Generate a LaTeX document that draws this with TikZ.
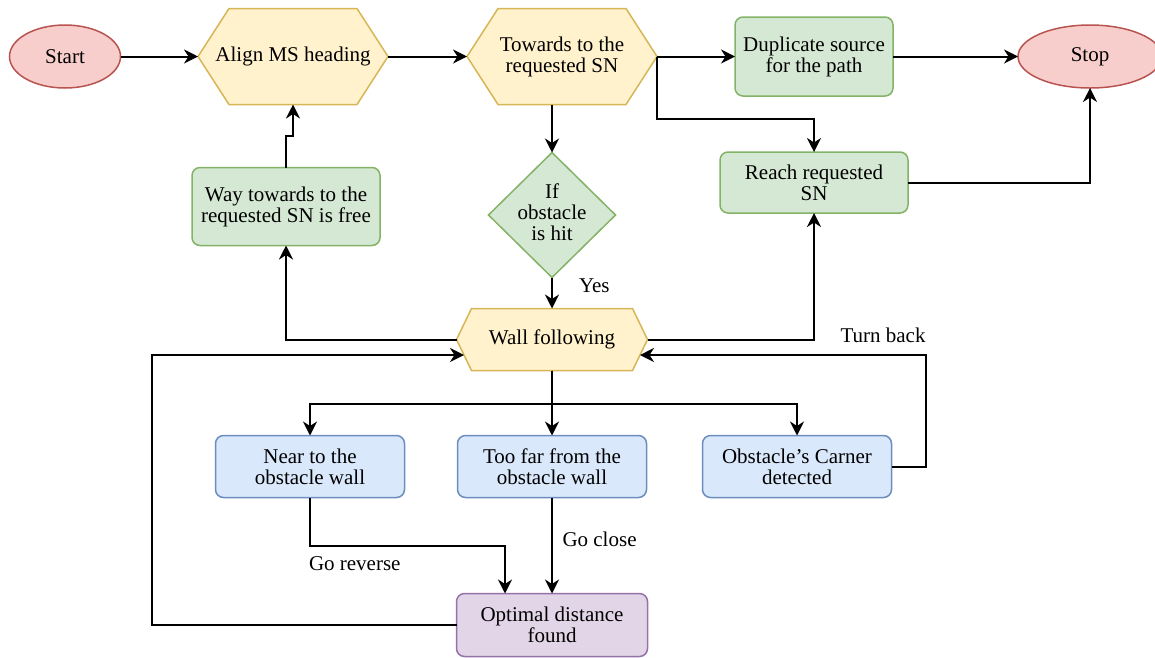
\documentclass[tikz,border=0pt]{standalone}
\usepackage{fontspec}
\setmainfont{Liberation Serif}
\usepackage{xcolor}
\usepackage{tikz}
\usetikzlibrary{shapes.geometric, arrows.meta, positioning, calc, backgrounds}
\definecolor{termfill}{RGB}{248,206,204}
\definecolor{termline}{RGB}{184,84,80}
\definecolor{hexfill}{RGB}{255,242,204}
\definecolor{hexline}{RGB}{214,182,86}
\definecolor{okfill}{RGB}{213,232,212}
\definecolor{okline}{RGB}{130,179,102}
\definecolor{wallfill}{RGB}{218,232,252}
\definecolor{wallline}{RGB}{108,142,191}
\definecolor{donefill}{RGB}{225,213,231}
\definecolor{doneline}{RGB}{150,115,166}
% hexagon drawn round a (borderless) node
\newcommand{\hexoutline}[2]{%
  \filldraw[draw=hexline, fill=hexfill, line width=1.5pt]
    (#1.west) -- ([xshift=#2]#1.north west) -- ([xshift=-#2]#1.north east)
    -- (#1.east) -- ([xshift=-#2]#1.south east) -- ([xshift=#2]#1.south west) -- cycle;}

\begin{document}
\begin{tikzpicture}[
  x=1pt, y=-1pt,
  base/.style={font=\fontsize{21}{21}\selectfont, align=center, inner sep=2pt, outer sep=0pt},
  terminal/.style={base, ellipse, draw=termline, fill=termfill, line width=1.5pt,
                   minimum height=63pt},
  hexbox/.style={base, rectangle, minimum width=190pt, minimum height=96pt},
  rbox/.style={base, rectangle, rounded corners=8pt, line width=1.5pt,
               minimum width=189pt, minimum height=62pt},
  okbox/.style={rbox, draw=okline, fill=okfill},
  wallbox/.style={rbox, draw=wallline, fill=wallfill},
  donebox/.style={rbox, draw=doneline, fill=donefill},
  decision/.style={diamond, draw=okline, fill=okfill, line width=1.5pt,
                   minimum width=127pt, minimum height=125pt, inner sep=0pt, outer sep=0pt,
                   font=\fontsize{21}{21}\selectfont},
  lbl/.style={font=\fontsize{21}{21}\selectfont, inner sep=0pt},
  arrow/.style={-{Stealth[length=14pt, width=14pt, inset=4.5pt]}, line width=2pt}
]
\useasboundingbox (0,0) rectangle (1155,657);

\node[terminal, minimum width=111pt] (start) at (65,56.5) {Start};
\node[hexbox, right=77.5pt of start] (align) {Align MS heading};
\node[hexbox, right=79pt of align] (towards) {Towards to the\\requested SN};
\node[okbox, minimum width=158pt, minimum height=79pt, right=78pt of towards] (dup) {Duplicate source\\for the path};
\node[terminal, minimum width=144pt, right=125pt of dup] (stop) {Stop};
\node[okbox, minimum width=188pt, minimum height=61pt, below=56pt of dup] (reach) {Reach requested\\SN};
\node[decision, below=48pt of towards, xshift=-10pt] (hit)
  {\makebox[0pt]{\raisebox{5pt}{\begin{tabular}{@{}c@{}}If\\obstacle\\is hit\end{tabular}}}};
\node[okbox, minimum width=188pt, minimum height=78pt, below=63pt of align, xshift=-7pt] (way) {Way towards to the\\requested SN is free};
\node[hexbox, minimum width=191pt, minimum height=62pt, below=31pt of hit] (wall) {Wall following};
\node[wallbox, below=65pt of wall] (toofar) {Too far from the\\obstacle wall};
\node[wallbox, left=53pt of toofar] (near) {Near to the\\obstacle wall};
\node[wallbox, right=56pt of toofar] (corner) {Obstacle’s Carner\\detected};
\node[donebox, minimum width=191pt, minimum height=63pt, below=96pt of toofar] (optimal) {Optimal distance\\found};

\begin{pgfonlayer}{background}
  \hexoutline{align}{31pt}
  \hexoutline{towards}{31pt}
  \hexoutline{wall}{15pt}
\end{pgfonlayer}
\coordinate (wallbl) at ($(wall.west)!0.5!([xshift=15pt]wall.south west)$);
\coordinate (wallbr) at ($(wall.east)!0.5!([xshift=-15pt]wall.south east)$);

\draw[arrow] (start.east) -- (align.west);
\draw[arrow] (align.east) -- (towards.west);
\draw[arrow] (towards.east) -- (dup.west);
\draw[arrow] (dup.east) -- (stop.west);
\draw[arrow] (towards.east) -- ++(0,62.5) -| (reach.north);
\draw[arrow] (towards.south -| hit.north) -- (hit.north);
\draw[arrow] (hit.south) -- node[lbl, pos=0.25, right=26pt] {Yes} (wall.north);
\draw[arrow] (wall.west) -| (way.south);
\draw[arrow] (way.north) -- ++(0,-31.5) -| (align.south);
\draw[arrow] (wall.east) -| (reach.south);
\draw[arrow] (reach.east) -| (stop.south);
\draw[arrow] (wall.south) -- (toofar.north);
\draw[arrow] (wall.south) -- ++(0,33) -| (near.north);
\draw[arrow] (wall.south) -- ++(0,33) -| (corner.north);
\draw[arrow] (near.south) -- node[lbl, pos=1, below right=10pt and -2pt] {Go reverse} ++(0,48)
  -| ([xshift=-47pt]optimal.north);
\draw[arrow] (toofar.south) -- node[lbl, pos=0.44, right=9.5pt] {Go close} (optimal.north);
\draw[arrow] (optimal.west) -- ++(-305,0) |- (wallbl);
\draw[arrow] (corner.east) -- ++(34,0) |- node[lbl, pos=0.5, above left=11.5pt and -1pt] {Turn back} (wallbr);
\end{tikzpicture}
\end{document}
